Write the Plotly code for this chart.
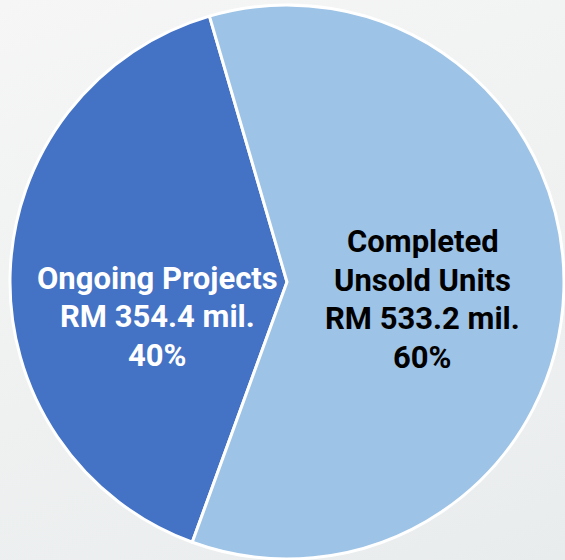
import plotly.graph_objects as go

labels = ["Ongoing Projects", "Completed Unsold Units"]
label_lines = [["Ongoing Projects"], ["Completed", "Unsold Units"]]
values = [354.4, 533.2]
colors = ["#4472C4", "#9DC3E6"]
text_colors = ["#FFFFFF", "#000000"]

total = sum(values)

fig = go.Figure(go.Pie(
    labels=labels,
    values=values,
    sort=False,
    direction="clockwise",
    rotation=-160,
    marker=dict(colors=colors, line=dict(color="#FFFFFF", width=3)),
    textinfo="none",
    hoverinfo="label+value+percent",
    showlegend=False,
    domain=dict(x=[0.0177, 0.9982], y=[0.0018, 0.9911]),
))

W, H = 565, 560
# per-slice label anchor: x centre and cap-centre of first line (px), line pitch
anchors = [(157.5, 278.0), (422.5, 241.5)]
pitch = 38.6
for i in range(len(values)):
    pct = round(values[i] / total * 100)
    lines = label_lines[i] + [f"RM {values[i]:.1f} mil.", f"{pct}%"]
    cx, cy = anchors[i]
    for j, line in enumerate(lines):
        fig.add_annotation(
            x=cx / W, y=1 - (cy + j * pitch) / H, xref="paper", yref="paper",
            xanchor="center", yanchor="middle", showarrow=False,
            text=f"<b>{line}</b>",
            font=dict(family="Roboto", size=31, color=text_colors[i]),
        )

fig.update_layout(
    width=W, height=H,
    margin=dict(l=0, r=0, t=0, b=0),
    paper_bgcolor="rgba(0,0,0,0)",
    plot_bgcolor="rgba(0,0,0,0)",
)

post = (
    "document.body.style.margin='0';"
    "document.documentElement.style.background='linear-gradient(160deg,#f5f6f5 0%,#eff1f1 55%,#e9eced 100%)';"
    "document.documentElement.style.minHeight='100%';"
)
fig.write_html("out.html", post_script=post, config={"displayModeBar": False})
